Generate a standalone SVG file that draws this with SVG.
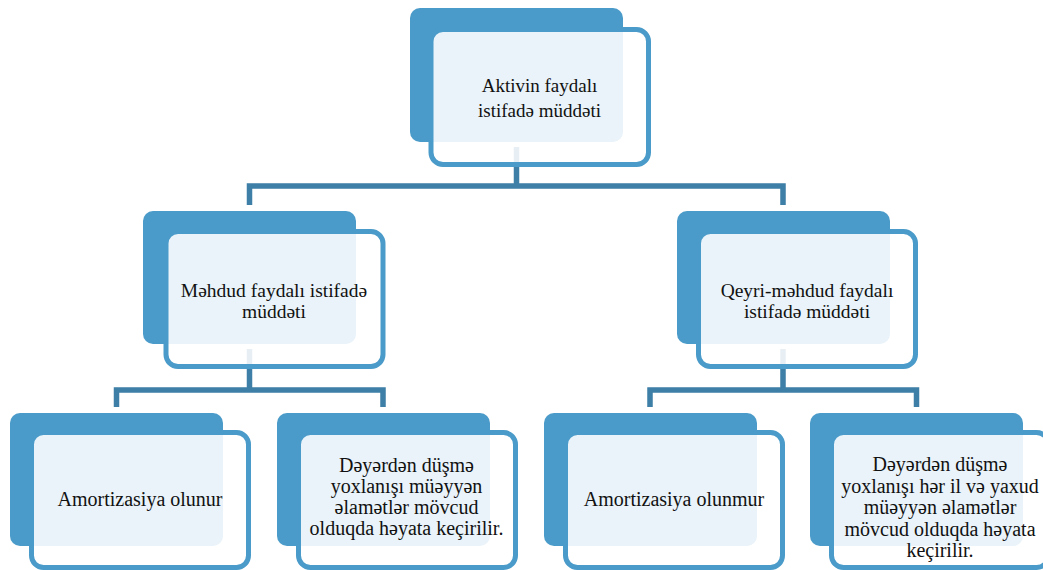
<svg xmlns="http://www.w3.org/2000/svg" width="1043" height="570" viewBox="0 0 1043 570">
<style>
.back{fill:#4a9bc9}
.front{fill:#ffffff;fill-opacity:0.88;stroke:#4a9bc9;stroke-width:5}
.conn{fill:none;stroke:#3d7fa7;stroke-width:5.5;stroke-linejoin:miter;stroke-linecap:butt}
text{font-family:"Liberation Serif","Times New Roman",serif;font-size:19.5px;fill:#111;text-anchor:middle}
.sm{font-size:20px}
</style>
<rect width="1043" height="570" fill="#ffffff"/>
<g id="connectors">
<path class="conn" d="M249.5 205 V186 H783 V205 M516.5 147 V186"/>
<path class="conn" d="M116.5 407 V390 H383 V407 M249.5 349 V390"/>
<path class="conn" d="M650 407 V390 H916.5 V407 M783 349 V390"/>
</g>
<g id="node-top">
<rect class="back" x="410" y="8" width="213" height="134" rx="10"/>
<rect class="front" x="431" y="29.5" width="217.5" height="135" rx="12"/>
<text x="539.5" y="92" style="font-size:19px">Aktivin faydalı</text>
<text x="539.5" y="117" style="font-size:19px">istifadə müddəti</text>
</g>
<g id="node-mid-left">
<rect class="back" x="143" y="211" width="213" height="133" rx="10"/>
<rect class="front" x="166" y="231.5" width="217" height="135" rx="12"/>
<text x="274" y="297">Məhdud faydalı istifadə</text>
<text x="274" y="318">müddəti</text>
</g>
<g id="node-mid-right">
<rect class="back" x="677" y="211" width="213" height="133" rx="10"/>
<rect class="front" x="698.5" y="231.5" width="217" height="135" rx="12"/>
<text x="807" y="297">Qeyri-məhdud faydalı</text>
<text x="807" y="318">istifadə müddəti</text>
</g>
<g id="node-b1">
<rect class="back" x="10" y="413" width="213" height="133" rx="10"/>
<rect class="front" x="31.5" y="432.5" width="217" height="135" rx="12"/>
<text class="sm" x="140" y="506">Amortizasiya olunur</text>
</g>
<g id="node-b2">
<rect class="back" x="277" y="413" width="213" height="133" rx="10"/>
<rect class="front" x="298.5" y="432.5" width="217" height="135" rx="12"/>
<text class="sm" x="406.5" y="472">Dəyərdən düşmə</text>
<text class="sm" x="406.5" y="493">yoxlanışı müəyyən</text>
<text class="sm" x="406.5" y="514">əlamətlər mövcud</text>
<text class="sm" x="406.5" y="535">olduqda həyata keçirilir.</text>
</g>
<g id="node-b3">
<rect class="back" x="544" y="413" width="213" height="133" rx="10"/>
<rect class="front" x="565.5" y="432.5" width="217" height="135" rx="12"/>
<text class="sm" x="674" y="506">Amortizasiya olunmur</text>
</g>
<g id="node-b4">
<rect class="back" x="810" y="413" width="213" height="133" rx="10"/>
<rect class="front" x="831.5" y="432.5" width="217" height="135" rx="12"/>
<text class="sm" x="940" y="471">Dəyərdən düşmə</text>
<text class="sm" x="940" y="492.5">yoxlanışı hər il və yaxud</text>
<text class="sm" x="940" y="514">müəyyən əlamətlər</text>
<text class="sm" x="940" y="535.5">mövcud olduqda həyata</text>
<text class="sm" x="940" y="557">keçirilir.</text>
</g>
</svg>
